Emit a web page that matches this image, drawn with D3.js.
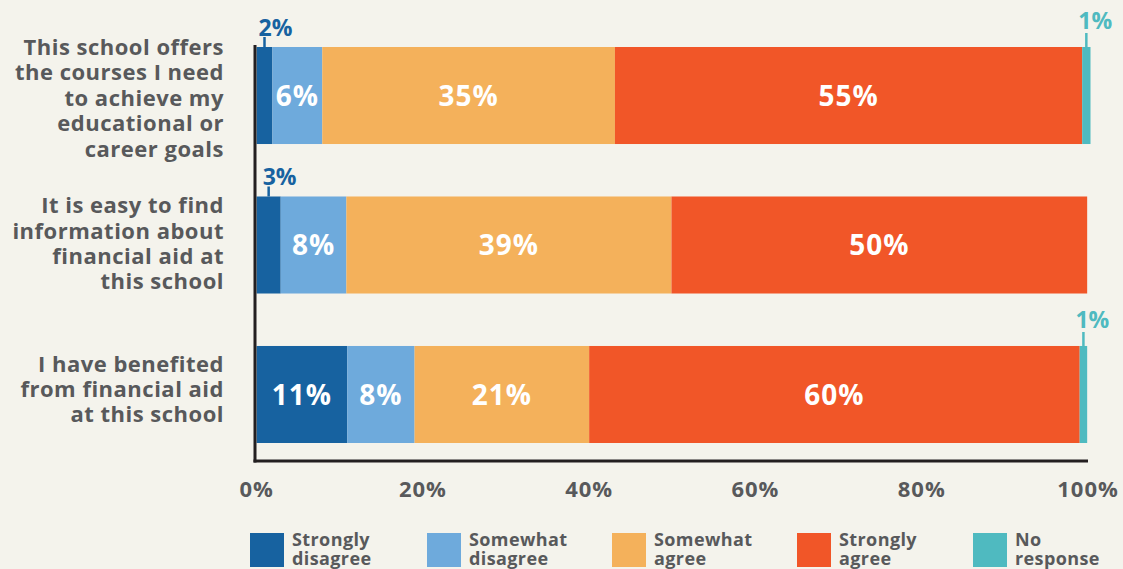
<!DOCTYPE html>
<html><head><meta charset="utf-8">
<script src="https://cdn.jsdelivr.net/npm/d3@7"></script>
<style>
html,body{margin:0;padding:0;background:#f4f3ec;}
svg{display:block;}
text{font-family:"Open Sans",sans-serif;font-weight:700;}
</style></head>
<body>
<script>
const categories = [
  ["This school offers","the courses I need","to achieve my","educational or","career goals"],
  ["It is easy to find","information about","financial aid at","this school"],
  ["I have benefited","from financial aid","at this school"]
];
const seriesNames = ["Strongly disagree","Somewhat disagree","Somewhat agree","Strongly agree","No response"];
const legendLines = [["Strongly","disagree"],["Somewhat","disagree"],["Somewhat","agree"],["Strongly","agree"],["No","response"]];
const colors = ["#1762a0","#6eaadc","#f4b15b","#f15628","#4fbac0"];
// measured segment widths (percent) per row
const stronglyDisagree = [1.9, 2.9, 10.9];
const somewhatDisagree = [6.0, 7.9, 8.1];
const somewhatAgree    = [35.2, 39.1, 21.0];
const stronglyAgree    = [56.2, 50.0, 59.0];
const noResponse       = [1.0, 0, 0.9];
// printed labels
const labelSD  = ["2%","3%","11%"];
const labelSWD = ["6%","8%","8%"];
const labelSA  = ["35%","39%","21%"];
const labelSA2 = ["55%","50%","60%"];
const labelNR  = ["1%","","1%"];
const tickValues = [0,20,40,60,80,100];
const tickLabels = ["0%","20%","40%","60%","80%","100%"];

const W=1123,H=569;
const svg=d3.select("body").append("svg").attr("width",W).attr("height",H);
svg.append("rect").attr("width",W).attr("height",H).attr("fill","#f4f3ec");

const x=d3.scaleLinear().domain([0,100]).range([256.6,1088]);
const y=d3.scaleBand().domain([0,1,2]).range([47,443]).paddingInner(0.351).paddingOuter(0);

const values=[stronglyDisagree,somewhatDisagree,somewhatAgree,stronglyAgree,noResponse];
const labels=[labelSD,labelSWD,labelSA,labelSA2,labelNR];
const rows=[0,1,2].map(i=>{
  let acc=0;
  return values.map((arr,s)=>{const seg={row:i,s,x0:acc,x1:acc+arr[i],label:labels[s][i]};acc+=arr[i];return seg;});
});
const segs=rows.flat().filter(d=>d.x1>d.x0);

svg.append("g").selectAll("rect").data(segs).join("rect")
  .attr("x",d=>x(d.x0)).attr("width",d=>x(d.x1)-x(d.x0))
  .attr("y",d=>y(d.row)).attr("height",y.bandwidth())
  .attr("fill",d=>colors[d.s]);

// inside labels
const inside=segs.filter(d=>d.s>=1&&d.s<=3 || (d.s===0&&d.x1-d.x0>5));
svg.append("g").selectAll("text").data(inside).join("text")
  .attr("x",d=>x((d.x0+d.x1)/2)).attr("y",d=>y(d.row)+y.bandwidth()/2)
  .attr("text-anchor","middle").attr("dy","0.36em").attr("letter-spacing",1)
  .attr("fill","#fff").attr("font-size",28).attr("font-weight",800).text(d=>d.label);

// outside labels
const outside=segs.filter(d=>(d.s===0&&d.x1-d.x0<=5)||d.s===4);
const og=svg.append("g");
outside.forEach(d=>{
  const cx=x((d.x0+d.x1)/2);
  const top=y(d.row);
  const isNR=d.s===4;
  const lineTop=isNR?top-14:top-10;
  og.append("line").attr("x1",cx).attr("x2",cx).attr("y1",lineTop).attr("y2",top)
    .attr("stroke",colors[d.s]).attr("stroke-width",2.5);
  og.append("text").attr("x",isNR?cx-8:cx-6).attr("y",isNR?top-18:top-11)
    .attr("fill",colors[d.s]).attr("font-size",23).attr("font-weight",800).text(d.label);
});

// axes lines
svg.append("line").attr("x1",255).attr("x2",255).attr("y1",45).attr("y2",462.5)
  .attr("stroke","#231f20").attr("stroke-width",3);
svg.append("line").attr("x1",253.5).attr("x2",1088).attr("y1",461).attr("y2",461)
  .attr("stroke","#231f20").attr("stroke-width",3);

// tick labels
svg.append("g").selectAll("text").data(tickValues).join("text")
  .attr("x",d=>x(d)).attr("y",497).attr("text-anchor","middle").attr("letter-spacing",1)
  .attr("fill","#58595b").attr("font-size",22).attr("font-weight",800)
  .text((d,i)=>tickLabels[i]);

// category labels
const lh=25.4;
categories.forEach((lines,i)=>{
  const first=y(i)+8+(5-lines.length)*8.8;
  const t=svg.append("text").attr("text-anchor","end").attr("fill","#58595b")
    .attr("font-size",22).attr("letter-spacing",0.5);
  lines.forEach((l,j)=>{
    t.append("tspan").attr("x",224).attr("y",first+j*lh).text(l);
  });
});

// legend
const legX=[250,427,612,797,973];
const lg=svg.append("g");
seriesNames.forEach((n,i)=>{
  lg.append("rect").attr("x",legX[i]).attr("y",533).attr("width",34).attr("height",34).attr("fill",colors[i]);
  const t=lg.append("text").attr("fill","#58595b").attr("font-size",18).attr("letter-spacing",0.4);
  legendLines[i].forEach((l,j)=>t.append("tspan").attr("x",legX[i]+42).attr("y",546+j*19).text(l));
});
</script>
</body></html>
